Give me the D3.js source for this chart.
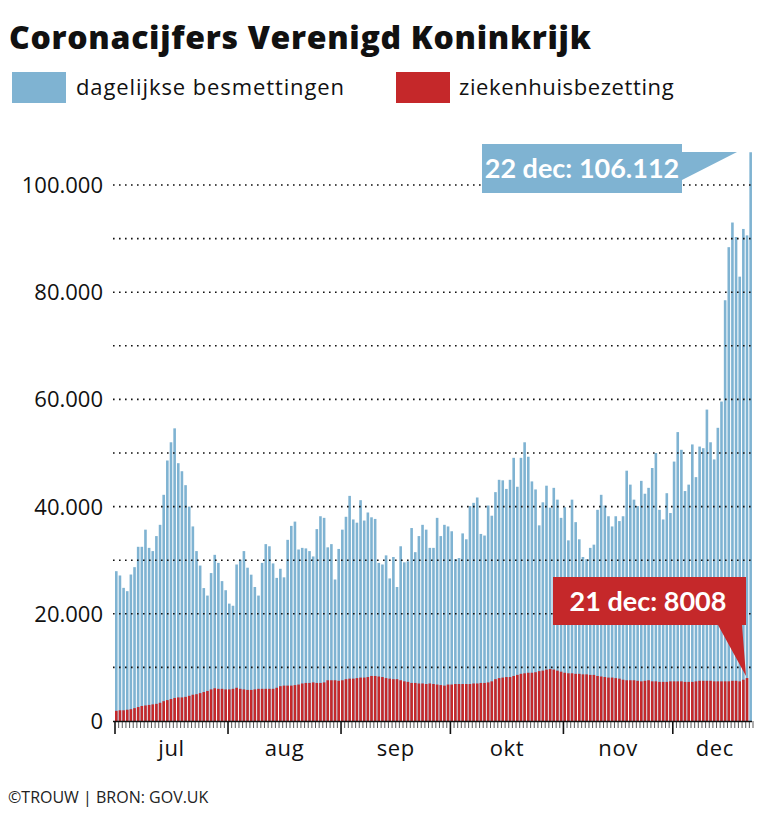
<!DOCTYPE html>
<html><head><meta charset="utf-8">
<script src="https://cdn.jsdelivr.net/npm/d3@7"></script>
<style>body{margin:0;background:#fff;font-family:"Open Sans",sans-serif}</style>
</head><body><svg id="c" width="763" height="818"></svg>
<script>
const startDate = "2021-07-01";
const cases = [27.95,27.15,24.84,24.22,27.33,28.7,32.5,32.5,35.7,32.3,31.7,34.5,36.6,42.2,48.6,52.0,54.6,48.1,46.6,44.0,40.0,36.3,31.7,29.0,24.8,23.4,27.6,31.0,29.5,26.1,24.4,
21.9,21.5,29.2,30.1,31.7,28.6,27.3,25.0,23.4,29.5,33.0,32.6,29.4,26.7,28.4,26.8,33.8,36.4,37.2,32.0,32.3,32.2,31.7,30.7,35.8,38.2,37.9,32.4,33.0,26.4,
32.1,35.7,38.1,42.0,37.6,37.0,41.2,37.4,38.9,38.0,37.7,29.5,29.2,30.9,26.6,30.6,25.0,32.6,29.6,29.8,36.0,31.5,34.5,36.6,35.7,32.3,32.3,37.9,34.5,36.6,
36.3,35.4,30.2,30.4,35.0,33.9,40.1,40.7,41.7,34.9,34.6,40.2,38.3,42.7,45.0,44.9,43.3,45.0,49.1,43.7,49.1,52.0,49.3,44.7,43.2,36.5,40.8,43.9,39.8,43.5,41.3,
37.9,39.9,33.7,41.3,37.1,33.9,30.6,30.2,32.3,32.9,39.4,42.2,40.2,38.2,36.3,38.2,37.3,38.2,46.7,44.1,41.3,40.1,44.8,42.4,43.5,47.2,50.0,39.4,37.6,42.5,
38.8,48.4,53.9,50.6,42.9,44.1,51.6,45.5,51.2,50.9,58.1,52.0,48.8,54.7,59.6,78.5,88.4,93.0,90.3,82.9,91.8,90.6,106.112];
const hospital = [1.9,2.0,2.0,2.1,2.2,2.4,2.6,2.8,2.9,3.0,3.1,3.2,3.4,3.7,3.9,4.1,4.3,4.4,4.4,4.5,4.7,4.9,5.0,5.2,5.4,5.6,5.9,6.1,6.0,6.0,5.9,
5.9,6.0,6.2,6.0,5.9,5.8,5.8,5.9,6.0,6.0,6.0,6.0,6.0,6.2,6.5,6.6,6.6,6.6,6.7,6.8,7.0,7.1,7.1,7.2,7.1,7.1,7.2,7.6,7.6,7.6,7.5,
7.6,7.8,7.9,7.9,8.0,8.1,8.1,8.2,8.4,8.4,8.3,8.2,8.0,7.9,7.8,7.8,7.6,7.4,7.3,7.1,7.1,7.0,7.0,6.9,7.0,6.9,6.8,6.7,6.6,6.8,
6.8,6.9,6.9,6.9,6.9,6.9,7.0,7.0,7.1,7.1,7.2,7.4,7.8,8.0,8.1,8.2,8.2,8.4,8.6,8.8,8.9,9.0,9.0,9.1,9.3,9.4,9.6,9.7,9.6,9.4,9.2,
9.0,8.9,8.9,8.8,8.8,8.7,8.7,8.6,8.6,8.4,8.3,8.2,8.1,8.1,8.0,7.9,7.7,7.6,7.6,7.6,7.5,7.4,7.5,7.6,7.4,7.4,7.3,7.3,7.3,7.4,
7.4,7.4,7.4,7.3,7.3,7.3,7.4,7.5,7.5,7.5,7.5,7.4,7.4,7.4,7.4,7.4,7.5,7.5,7.4,7.7,8.008];
const yTicks = [0,20000,40000,60000,80000,100000];
const monthLabels = ["jul","aug","sep","okt","nov","dec"];
const legendLabels = ["dagelijkse besmettingen","ziekenhuisbezetting"];
const casesNote = "22 dec: 106.112";
const hospNote = "21 dec: 8008";

const svg = d3.select("#c");
const blue = "#7fb3d2", red = "#c5282a";
const day0 = new Date(startDate+"T00:00:00");
const dayAt = i => d3.timeDay.offset(day0, i);
const x = d3.scaleTime().domain([day0, dayAt(175)]).range([115, 753]);
const y = d3.scaleLinear().domain([0,100000]).range([721,185]);
const bw = 2.6;

svg.append("text").attr("x",9).attr("y",49).attr("font-size",32).attr("font-weight",800)
  .attr("fill","#111").attr("letter-spacing",0.7).text("Coronacijfers Verenigd Koninkrijk");
svg.append("rect").attr("x",12).attr("y",72).attr("width",54).attr("height",31).attr("fill",blue);
svg.append("text").attr("x",76).attr("y",95).attr("font-size",22).attr("letter-spacing",0.9).attr("fill","#111").text(legendLabels[0]);
svg.append("rect").attr("x",396).attr("y",72).attr("width",54).attr("height",31).attr("fill",red);
svg.append("text").attr("x",459).attr("y",95).attr("font-size",22).attr("letter-spacing",0.6).attr("fill","#111").text(legendLabels[1]);

svg.append("g").selectAll("rect").data(cases).join("rect")
  .attr("x",(d,i)=>x(dayAt(i))).attr("width",bw)
  .attr("y",d=>y(d*1000)).attr("height",d=>721-y(d*1000)).attr("fill",blue);
svg.append("g").selectAll("rect").data(hospital).join("rect")
  .attr("x",(d,i)=>x(dayAt(i))).attr("width",bw)
  .attr("y",d=>y(d*1000)).attr("height",d=>721-y(d*1000)).attr("fill",red);

const grid = d3.range(10000,100001,10000);
svg.append("g").selectAll("line").data(grid).join("line")
  .attr("x1",113).attr("x2",752).attr("y1",d=>y(d)).attr("y2",d=>y(d))
  .attr("stroke","#111").attr("stroke-width",1.6).attr("stroke-dasharray","1.6,4.4");
svg.append("g").selectAll("text").data(yTicks).join("text")
  .attr("x",103).attr("y",d=>y(d)+8).attr("text-anchor","end").attr("font-size",22).attr("fill","#111")
  .text(d=>d3.format(",")(d).replace(/,/g,"."));

svg.append("line").attr("x1",113).attr("x2",752).attr("y1",721.5).attr("y2",721.5).attr("stroke","#111").attr("stroke-width",1.5);
const days = d3.timeDay.range(day0, dayAt(176));
svg.append("g").selectAll("line").data(days).join("line")
  .attr("x1",d=>x(d)).attr("x2",d=>x(d)).attr("y1",721).attr("y2",d=>d.getDate()===1?734:728)
  .attr("stroke","#111").attr("stroke-width",d=>d.getDate()===1?1.6:0.7);
const months = d3.timeMonth.range(day0, dayAt(176));
svg.append("g").selectAll("text").data(months).join("text")
  .attr("x",(d,i)=>{const e=i<5?d3.timeMonth.offset(d,1):dayAt(175);return (x(d)+x(e))/2+(i<5?0:2);})
  .attr("y",756).attr("text-anchor","middle").attr("font-size",22).attr("letter-spacing",0.6).attr("fill","#111")
  .text((d,i)=>monthLabels[i]);

svg.append("path").attr("d","M482,144H682V152H737L682,180V193H482Z").attr("fill",blue);
svg.append("text").attr("x",582).attr("y",178).attr("text-anchor","middle").attr("font-size",27)
  .attr("font-family","Lato").attr("font-weight",700).attr("fill","#fff").text(casesNote);
svg.append("path").attr("d","M553,577H746V625H742L746,676L718,625H553Z").attr("fill",red);
svg.append("text").attr("x",648).attr("y",611).attr("text-anchor","middle").attr("font-size",27)
  .attr("font-family","Lato").attr("font-weight",700).attr("fill","#fff").text(hospNote);

svg.append("text").attr("x",8).attr("y",803).attr("font-size",16).attr("fill","#222").text("©TROUW | BRON: GOV.UK");
</script></body></html>
